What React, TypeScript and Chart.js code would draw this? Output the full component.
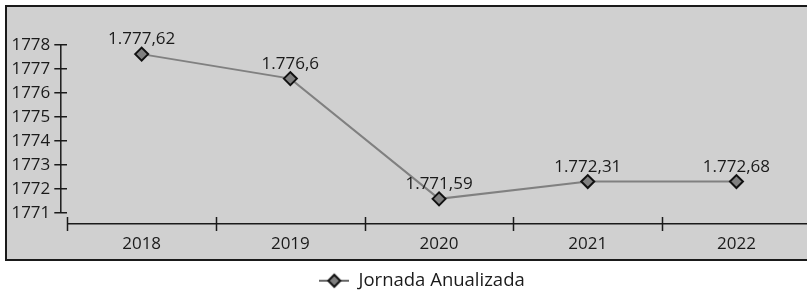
import React, { useEffect, useRef } from "react";
import { Chart, registerables } from "chart.js";

Chart.register(...registerables);

// ---- data ----
const years = ["2018", "2019", "2020", "2021", "2022"];
// values as plotted in the picture (the 2022 marker sits at the 2021 level)
const plottedValues = [1777.62, 1776.6, 1771.59, 1772.31, 1772.31];
const valueLabels = ["1.777,62", "1.776,6", "1.771,59", "1.772,31", "1.772,68"];
const yTickValues = [1771, 1772, 1773, 1774, 1775, 1776, 1777, 1778];
const seriesName = "Jornada Anualizada";

// ---- styling ----
const W = 850;
const H = 291;
const FONT = "'Open Sans', sans-serif";
const FONT_SIZE = 17;
const INK = "#1a1a1a";
const PANEL = "#d0d0d0";
const LINE = "#808080";

function makeLegendIcon(): HTMLCanvasElement {
  const c = document.createElement("canvas");
  c.width = 30;
  c.height = 18;
  const ctx = c.getContext("2d")!;
  ctx.strokeStyle = "#333";
  ctx.lineWidth = 1.5;
  ctx.beginPath();
  ctx.moveTo(0, 9);
  ctx.lineTo(30, 9);
  ctx.stroke();
  ctx.beginPath();
  ctx.moveTo(15, 3);
  ctx.lineTo(21, 9);
  ctx.lineTo(15, 15);
  ctx.lineTo(9, 9);
  ctx.closePath();
  ctx.fillStyle = LINE;
  ctx.fill();
  ctx.strokeStyle = "#111";
  ctx.lineWidth = 2;
  ctx.stroke();
  return c;
}

const decorPlugin = {
  id: "decor",
  beforeDraw(chart: any) {
    const ctx = chart.ctx;
    ctx.save();
    ctx.fillStyle = PANEL;
    ctx.fillRect(6, 6, W - 14, 254);
    ctx.strokeStyle = INK;
    ctx.lineWidth = 2;
    ctx.strokeRect(6, 6, W - 14, 254);
    ctx.restore();
  },
  afterDraw(chart: any) {
    const ctx = chart.ctx;
    const x = chart.scales.x;
    const y = chart.scales.y;
    const area = chart.chartArea;
    ctx.save();
    ctx.strokeStyle = INK;
    ctx.lineWidth = 1.5;
    // y axis line (separate from the x axis)
    const yx = area.left - 6.5;
    ctx.beginPath();
    ctx.moveTo(yx, y.getPixelForValue(yTickValues[yTickValues.length - 1]));
    ctx.lineTo(yx, y.getPixelForValue(yTickValues[0]));
    ctx.stroke();
    // x axis category separators crossing the axis
    const c0 = x.getPixelForValue(0);
    const c1 = x.getPixelForValue(1);
    const half = (c1 - c0) / 2;
    for (let i = 0; i <= years.length; i++) {
      const bx = Math.round(c0 - half + i * 2 * half) + 0.5;
      ctx.beginPath();
      ctx.moveTo(bx, area.bottom - 7);
      ctx.lineTo(bx, area.bottom + 7);
      ctx.stroke();
    }
    ctx.restore();
  },
  afterDatasetsDraw(chart: any) {
    const ctx = chart.ctx;
    const meta = chart.getDatasetMeta(0);
    ctx.save();
    ctx.fillStyle = INK;
    ctx.font = `${FONT_SIZE}px ${FONT}`;
    ctx.textAlign = "center";
    ctx.textBaseline = "alphabetic";
    meta.data.forEach((pt: any, i: number) => {
      ctx.fillText(valueLabels[i], pt.x, pt.y - 10);
    });
    ctx.restore();
  },
};

export default function App() {
  const ref = useRef<HTMLCanvasElement | null>(null);

  useEffect(() => {
    if (!ref.current) return;
    Chart.defaults.font.family = FONT;
    Chart.defaults.font.size = FONT_SIZE;
    Chart.defaults.color = INK;
    const icon = makeLegendIcon();
    const chartLeft = 67.3;
    const chartRight = 810.8;
    const legendRight = 844;
    const chart = new Chart(ref.current, {
      type: "line",
      data: {
        labels: years,
        datasets: [
          {
            label: seriesName,
            data: plottedValues,
            borderColor: LINE,
            borderWidth: 2,
            pointStyle: "rectRot",
            pointRadius: 6.5,
            pointBackgroundColor: LINE,
            pointBorderColor: "#111",
            pointBorderWidth: 2,
            tension: 0,
            clip: false as any,
          },
        ],
      },
      options: {
        responsive: false,
        animation: false,
        devicePixelRatio: 1,
        layout: { padding: { left: 0, right: W - legendRight, top: 45, bottom: 0 } },
        plugins: {
          tooltip: { enabled: false },
          legend: {
            position: "bottom",
            maxHeight: 29.5,
            labels: {
              usePointStyle: true,
              pointStyleWidth: 30,
              boxHeight: 18.5,
              padding: 10,
              color: INK,
              font: { size: 18.5, family: FONT },
              generateLabels: () => [
                {
                  text: seriesName,
                  pointStyle: icon as any,
                  fillStyle: LINE,
                  strokeStyle: "#111",
                  lineWidth: 0,
                  hidden: false,
                  datasetIndex: 0,
                  fontColor: INK,
                } as any,
              ],
            },
          } as any,
        },
        scales: {
          x: {
            type: "category",
            offset: true,
            grid: { display: false, drawTicks: false, offset: true },
            border: { display: true, color: INK, width: 1.5 },
            ticks: { padding: 9.5, color: INK, font: { size: FONT_SIZE, family: FONT } },
            afterFit: (s: any) => {
              s.height = 37.5;
            },
          },
          y: {
            type: "linear",
            min: 1771 - 11 / 24,
            max: 1778,
            afterBuildTicks: (s: any) => {
              s.ticks = yTickValues.map((v) => ({ value: v }));
            },
            afterFit: (s: any) => {
              s.width = chartLeft;
            },
            grid: {
              display: true,
              drawOnChartArea: false,
              drawTicks: true,
              tickLength: 13,
              color: INK,
              lineWidth: 1.5,
            },
            border: { display: false },
            ticks: {
              padding: 4,
              color: INK,
              font: { size: FONT_SIZE, family: FONT },
              callback: (v: any) => String(v),
            },
          },
          // empty spacer on the right so the legend centres like the original
          spacer: {
            type: "linear",
            position: "right",
            display: true,
            grid: { display: false, drawTicks: false },
            border: { display: false },
            ticks: { display: false },
            afterFit: (s: any) => {
              s.width = legendRight - chartRight;
            },
          } as any,
        },
      },
      plugins: [decorPlugin],
    });
    return () => chart.destroy();
  }, []);

  return (
    <div
      style={{
        position: "fixed",
        left: 0,
        top: 0,
        width: 807,
        height: 291,
        overflow: "hidden",
        background: "#fff",
      }}
    >
      <canvas ref={ref} width={W} height={H} style={{ display: "block", width: W, height: H }} />
    </div>
  );
}
